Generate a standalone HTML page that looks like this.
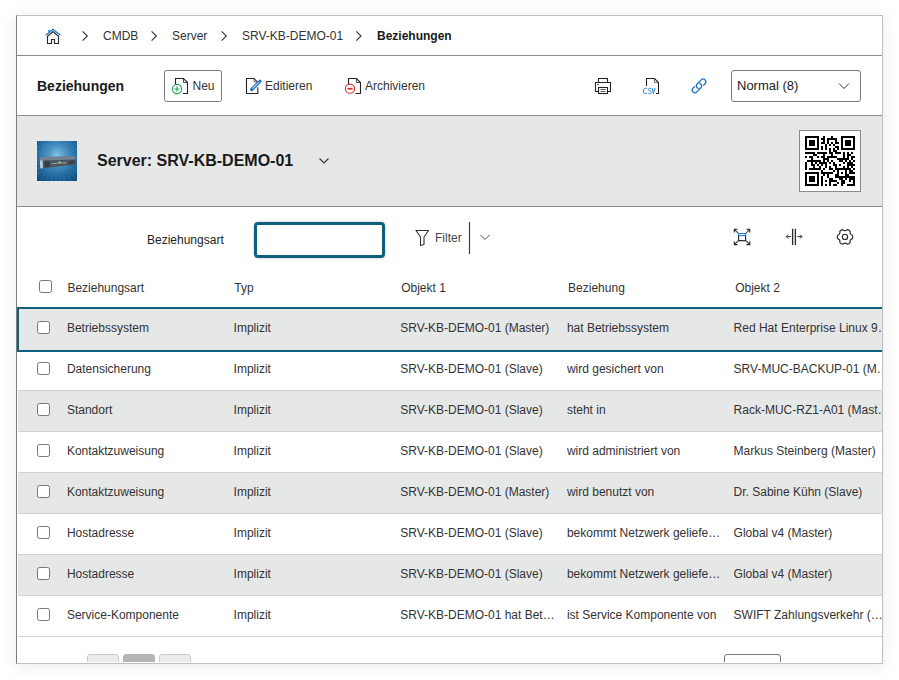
<!DOCTYPE html>
<html><head><meta charset="utf-8">
<style>
*{box-sizing:border-box;margin:0;padding:0}
html,body{width:899px;height:680px;overflow:hidden;background:#fff}
body{font-family:"Liberation Sans",sans-serif;font-size:12px;color:#333;position:relative}
.panel{position:absolute;left:16px;top:15px;width:867px;height:649px;border:1px solid #c0c0c0;border-left-color:#7d7d7d;background:#fff;box-shadow:0 2px 16px rgba(0,0,0,0.09)}
.clip{position:absolute;left:17px;top:16px;width:865px;height:646px;overflow:hidden}
.org{position:absolute;left:-17px;top:-16px;width:899px;height:680px}
.a{position:absolute}
.t{position:absolute;white-space:nowrap;line-height:14px}
.hl{position:absolute;left:17px;width:865px;height:1px}
svg{position:absolute;overflow:visible}
.cb{position:absolute;width:13px;height:13px;border:1px solid #777;border-radius:2.5px;background:#fff}
.row{position:absolute;left:18px;width:900px;height:41px;border-bottom:1px solid #d2d2d2}
.row.g{background:#e6e7e7}
.c{overflow:hidden;text-overflow:ellipsis}
</style></head><body>
<div class="panel"></div>
<div class="clip"><div class="org">

  <!-- ===== Breadcrumb ===== -->
  <svg style="left:0;top:0" width="1" height="1">
    <!-- home -->
    <path d="M47.5 43.5 V36.2 L53 31.5 L58.5 36.2 V43.5 H54.5 V39.5 H51.5 V43.5 Z" fill="none" stroke="#2a2a2a" stroke-width="1.2" stroke-linejoin="miter"/>
    <path d="M45.6 35.3 L53 29.3 L60.4 35.3" fill="none" stroke="#1a73c8" stroke-width="1.1"/>
    <path d="M48.2 32.2 V29.9 L50.6 30.4 Z" fill="#1a73c8"/>
    <!-- chevrons -->
    <path d="M82.6 31.4 L87.3 36 L82.6 40.6" fill="none" stroke="#3a3a3a" stroke-width="1.15"/>
    <path d="M151.6 31.4 L156.3 36 L151.6 40.6" fill="none" stroke="#3a3a3a" stroke-width="1.15"/>
    <path d="M221.6 31.4 L226.3 36 L221.6 40.6" fill="none" stroke="#3a3a3a" stroke-width="1.15"/>
    <path d="M356.3 31.4 L361 36 L356.3 40.6" fill="none" stroke="#3a3a3a" stroke-width="1.15"/>
  </svg>
  <div class="t" style="left:103px;top:29px">CMDB</div>
  <div class="t" style="left:172px;top:29px">Server</div>
  <div class="t" style="left:242px;top:29px">SRV-KB-DEMO-01</div>
  <div class="t" style="left:377px;top:29px;font-weight:bold;color:#1a1a1a">Beziehungen</div>
  <div class="hl" style="top:55px;background:#8c8c8c"></div>

  <!-- ===== Toolbar ===== -->
  <div class="t" style="left:37px;top:78px;font-size:14px;line-height:16px;font-weight:bold;color:#1a1a1a">Beziehungen</div>
  <div class="a" style="left:164px;top:70px;width:58px;height:32px;border:1px solid #7a7a7a;border-radius:2.5px"></div>
  <div class="t" style="left:192.5px;top:79px">Neu</div>
  <div class="t" style="left:265px;top:79px">Editieren</div>
  <div class="t" style="left:365px;top:79px">Archivieren</div>
  <svg style="left:0;top:0" width="1" height="1">
    <!-- Neu doc -->
    <path d="M175.5 85 V78.5 H183.5 L187.5 82.5 V93.5 H183" fill="none" stroke="#222" stroke-width="1.1"/>
    <path d="M183.5 78.5 V82.5 H187.5" fill="none" stroke="#222" stroke-width="0.8"/>
    <circle cx="177" cy="89" r="4.6" fill="#fff" stroke="#1fa550" stroke-width="1.1"/>
    <path d="M177 86.4 V91.6 M174.4 89 H179.6" stroke="#1fa550" stroke-width="1.15"/>
    <!-- Edit doc -->
    <path d="M252 93.5 H246.5 V78.5 H254 L257.8 82.3 M257.8 87.2 V93.5 H251" fill="none" stroke="#222" stroke-width="1.1"/>
    <path d="M254 78.8 V82 H257.3" fill="none" stroke="#555" stroke-width="0.8"/>
    <path d="M251.6 89.6 L259.9 81.3" stroke="#1a73c8" stroke-width="3.2" stroke-linecap="round"/>
    <path d="M252.6 88.6 L259.4 81.8" stroke="#fff" stroke-width="1"/>
    <!-- Archiv doc -->
    <path d="M348.5 84 V78.5 H356.5 L360.5 82.5 V93.5 H355.5" fill="none" stroke="#222" stroke-width="1.1"/>
    <path d="M356.5 78.5 V82.5 H360.5" fill="none" stroke="#222" stroke-width="0.8"/>
    <circle cx="350" cy="88.7" r="4.6" fill="#fff" stroke="#d9302c" stroke-width="1.1"/>
    <path d="M347.4 88.7 H352.6" stroke="#d9302c" stroke-width="1.8"/>
    <!-- printer -->
    <path d="M598.5 82.5 V78.5 H607.5 V82.5" fill="none" stroke="#222" stroke-width="1.1"/>
    <path d="M598.5 91.5 H595.5 V82.5 H610.5 V91.5 H607.5" fill="none" stroke="#222" stroke-width="1.1"/>
    <rect x="598.5" y="87.5" width="9" height="6" fill="#fff" stroke="#222" stroke-width="1.1"/>
    <path d="M600.5 89.5 H605.5 M600.5 91.5 H605.5" stroke="#333" stroke-width="0.8"/>
    <path d="M597 84.5 H599" stroke="#1a73c8" stroke-width="1.2"/>
    <!-- csv -->
    <path d="M646.5 86 V78.5 H654.5 L658.5 82.5 V93.5 H656" fill="none" stroke="#222" stroke-width="1.1"/>
    <path d="M654.5 78.8 V82.5 H658.2" fill="none" stroke="#555" stroke-width="0.8"/>
    <!-- link -->
    <g transform="translate(699 85.9) rotate(-45)" fill="none" stroke="#1a6fc0" stroke-width="1.3">
      <path d="M-3.2 -2.7 H-5.8 A2.7 2.7 0 0 0 -5.8 2.7 H0 A2.7 2.7 0 0 0 2.15 -1.6"/>
      <path d="M3.2 2.7 H5.8 A2.7 2.7 0 0 0 5.8 -2.7 H0 A2.7 2.7 0 0 0 -2.15 1.6"/>
    </g>
  </svg>
  <svg style="left:0;top:0" width="1" height="1"><path d="M647.3 89 C646.8 88.4 646.2 88.2 645.5 88.2 C644.2 88.2 643.5 89.4 643.5 91 C643.5 92.6 644.2 93.8 645.5 93.8 C646.2 93.8 646.8 93.6 647.3 93 M651.3 88.9 C650.9 88.4 650.4 88.2 649.8 88.2 C649 88.2 648.4 88.7 648.4 89.5 C648.4 90.3 649.1 90.6 649.9 90.9 C650.8 91.2 651.5 91.6 651.5 92.5 C651.5 93.3 650.8 93.8 649.9 93.8 C649.2 93.8 648.6 93.5 648.2 93 M652.1 88.1 L653.5 93.7 L654.9 88.1" fill="none" stroke="#2a86cc" stroke-width="1"/></svg>
  <div class="a" style="left:731px;top:70px;width:130px;height:32px;border:1px solid #7a7a7a;border-radius:3px;background:#fff"></div>
  <div class="t" style="left:737px;top:79px;font-size:13px;color:#222">Normal (8)</div>
  <svg style="left:0;top:0" width="1" height="1">
    <path d="M839 83.5 L844 88.5 L849 83.5" fill="none" stroke="#333" stroke-width="1"/>
  </svg>
  <div class="hl" style="top:115px;background:#8c8c8c"></div>

  <!-- ===== Server header ===== -->
  <div class="a" style="left:17px;top:116px;width:865px;height:90px;background:#e6e7e7"></div>
  <div class="a" style="left:37px;top:141px;width:40px;height:40px;background:repeating-conic-gradient(from 0deg at 50% 45%, rgba(255,255,255,0.045) 0deg 6deg, rgba(0,0,0,0) 6deg 12deg),radial-gradient(circle at 50% 36%, #86c2e4 0%, #4592c2 28%, #1f6aa0 62%, #0b4677 100%)"></div>
  <svg style="left:37px;top:141px" width="40" height="40">
    <path d="M2.8 16.6 Q3 15.9 4 15.8 L37.2 15.2 Q38.4 15.3 38.5 16.2 L38.6 18.6 L3 19.4 Z" fill="#75818f"/>
    <path d="M3 19.4 L38.6 18.6 L38.6 23.4 L4.4 27.6 L3.2 27 Z" fill="#4b5663"/>
    <path d="M3 19.4 L5.6 19.3 L6 27.3 L4.4 27.6 L3.2 27 Z" fill="#c3ccd3"/>
    <path d="M7.5 20.2 L12.5 20 L12.6 26 L7.6 26.6 Z" fill="#323a44"/>
    <path d="M15 22.6 L21 22.3 M23.5 22.1 L29 21.8" stroke="#8fc48a" stroke-width="0.9"/>
    <path d="M20 22.3 L22 22.2 M28.5 21.8 L30 21.7" stroke="#d06a4a" stroke-width="0.9"/>
    <path d="M21.2 21.3 L22.6 20.3 L24 21.2 L22.6 22.6 Z" fill="#cfd8df"/>
    <path d="M31.5 19.7 L37.8 19.5 L37.8 22.8 L31.5 23.4 Z" fill="#3a444f"/>
  </svg>
  <div class="t" style="left:97px;top:152px;font-size:16px;line-height:18px;font-weight:bold;color:#1a1a1a">Server: SRV-KB-DEMO-01</div>
  <svg style="left:0;top:0" width="1" height="1">
    <path d="M319.5 158.5 L324 163 L328.5 158.5" fill="none" stroke="#333" stroke-width="1.1"/>
  </svg>
  <div class="a" style="left:799px;top:130px;width:62px;height:62px;border:1px solid #8a8a8a;background:#fff"></div>
  <svg id="qr" style="left:805px;top:136px" width="50" height="50"><g fill="#000" shape-rendering="crispEdges"><rect x="0" y="0" width="14" height="2"/><rect x="18" y="0" width="2" height="2"/><rect x="26" y="0" width="2" height="2"/><rect x="36" y="0" width="14" height="2"/><rect x="0" y="2" width="2" height="2"/><rect x="12" y="2" width="2" height="2"/><rect x="16" y="2" width="4" height="2"/><rect x="22" y="2" width="10" height="2"/><rect x="36" y="2" width="2" height="2"/><rect x="48" y="2" width="2" height="2"/><rect x="0" y="4" width="2" height="2"/><rect x="4" y="4" width="6" height="2"/><rect x="12" y="4" width="2" height="2"/><rect x="18" y="4" width="2" height="2"/><rect x="22" y="4" width="2" height="2"/><rect x="30" y="4" width="2" height="2"/><rect x="36" y="4" width="2" height="2"/><rect x="40" y="4" width="6" height="2"/><rect x="48" y="4" width="2" height="2"/><rect x="0" y="6" width="2" height="2"/><rect x="4" y="6" width="6" height="2"/><rect x="12" y="6" width="2" height="2"/><rect x="16" y="6" width="4" height="2"/><rect x="22" y="6" width="2" height="2"/><rect x="26" y="6" width="2" height="2"/><rect x="30" y="6" width="4" height="2"/><rect x="36" y="6" width="2" height="2"/><rect x="40" y="6" width="6" height="2"/><rect x="48" y="6" width="2" height="2"/><rect x="0" y="8" width="2" height="2"/><rect x="4" y="8" width="6" height="2"/><rect x="12" y="8" width="2" height="2"/><rect x="20" y="8" width="2" height="2"/><rect x="24" y="8" width="2" height="2"/><rect x="28" y="8" width="2" height="2"/><rect x="36" y="8" width="2" height="2"/><rect x="40" y="8" width="6" height="2"/><rect x="48" y="8" width="2" height="2"/><rect x="0" y="10" width="2" height="2"/><rect x="12" y="10" width="2" height="2"/><rect x="16" y="10" width="2" height="2"/><rect x="20" y="10" width="2" height="2"/><rect x="30" y="10" width="4" height="2"/><rect x="36" y="10" width="2" height="2"/><rect x="48" y="10" width="2" height="2"/><rect x="0" y="12" width="14" height="2"/><rect x="16" y="12" width="2" height="2"/><rect x="20" y="12" width="2" height="2"/><rect x="24" y="12" width="2" height="2"/><rect x="28" y="12" width="2" height="2"/><rect x="32" y="12" width="2" height="2"/><rect x="36" y="12" width="14" height="2"/><rect x="24" y="14" width="2" height="2"/><rect x="28" y="14" width="4" height="2"/><rect x="0" y="16" width="10" height="2"/><rect x="12" y="16" width="10" height="2"/><rect x="24" y="16" width="4" height="2"/><rect x="30" y="16" width="6" height="2"/><rect x="38" y="16" width="2" height="2"/><rect x="42" y="16" width="2" height="2"/><rect x="46" y="16" width="2" height="2"/><rect x="8" y="18" width="4" height="2"/><rect x="18" y="18" width="2" height="2"/><rect x="26" y="18" width="2" height="2"/><rect x="38" y="18" width="2" height="2"/><rect x="42" y="18" width="4" height="2"/><rect x="0" y="20" width="2" height="2"/><rect x="4" y="20" width="4" height="2"/><rect x="12" y="20" width="2" height="2"/><rect x="16" y="20" width="4" height="2"/><rect x="22" y="20" width="10" height="2"/><rect x="38" y="20" width="2" height="2"/><rect x="42" y="20" width="2" height="2"/><rect x="46" y="20" width="4" height="2"/><rect x="6" y="22" width="2" height="2"/><rect x="18" y="22" width="6" height="2"/><rect x="32" y="22" width="12" height="2"/><rect x="46" y="22" width="2" height="2"/><rect x="2" y="24" width="14" height="2"/><rect x="18" y="24" width="2" height="2"/><rect x="22" y="24" width="2" height="2"/><rect x="26" y="24" width="2" height="2"/><rect x="34" y="24" width="4" height="2"/><rect x="40" y="24" width="2" height="2"/><rect x="44" y="24" width="2" height="2"/><rect x="48" y="24" width="2" height="2"/><rect x="0" y="26" width="2" height="2"/><rect x="6" y="26" width="2" height="2"/><rect x="10" y="26" width="2" height="2"/><rect x="14" y="26" width="8" height="2"/><rect x="24" y="26" width="2" height="2"/><rect x="28" y="26" width="2" height="2"/><rect x="38" y="26" width="2" height="2"/><rect x="42" y="26" width="6" height="2"/><rect x="0" y="28" width="2" height="2"/><rect x="6" y="28" width="4" height="2"/><rect x="12" y="28" width="2" height="2"/><rect x="16" y="28" width="2" height="2"/><rect x="20" y="28" width="2" height="2"/><rect x="28" y="28" width="4" height="2"/><rect x="34" y="28" width="2" height="2"/><rect x="42" y="28" width="8" height="2"/><rect x="0" y="30" width="2" height="2"/><rect x="8" y="30" width="2" height="2"/><rect x="14" y="30" width="2" height="2"/><rect x="20" y="30" width="2" height="2"/><rect x="24" y="30" width="2" height="2"/><rect x="30" y="30" width="2" height="2"/><rect x="38" y="30" width="2" height="2"/><rect x="42" y="30" width="2" height="2"/><rect x="46" y="30" width="2" height="2"/><rect x="0" y="32" width="2" height="2"/><rect x="4" y="32" width="12" height="2"/><rect x="18" y="32" width="2" height="2"/><rect x="24" y="32" width="4" height="2"/><rect x="30" y="32" width="16" height="2"/><rect x="48" y="32" width="2" height="2"/><rect x="16" y="34" width="2" height="2"/><rect x="28" y="34" width="2" height="2"/><rect x="32" y="34" width="2" height="2"/><rect x="40" y="34" width="2" height="2"/><rect x="44" y="34" width="4" height="2"/><rect x="0" y="36" width="14" height="2"/><rect x="16" y="36" width="12" height="2"/><rect x="32" y="36" width="2" height="2"/><rect x="36" y="36" width="2" height="2"/><rect x="40" y="36" width="2" height="2"/><rect x="44" y="36" width="6" height="2"/><rect x="0" y="38" width="2" height="2"/><rect x="12" y="38" width="2" height="2"/><rect x="18" y="38" width="2" height="2"/><rect x="22" y="38" width="2" height="2"/><rect x="30" y="38" width="4" height="2"/><rect x="40" y="38" width="4" height="2"/><rect x="0" y="40" width="2" height="2"/><rect x="4" y="40" width="6" height="2"/><rect x="12" y="40" width="2" height="2"/><rect x="16" y="40" width="2" height="2"/><rect x="22" y="40" width="2" height="2"/><rect x="30" y="40" width="20" height="2"/><rect x="0" y="42" width="2" height="2"/><rect x="4" y="42" width="6" height="2"/><rect x="12" y="42" width="2" height="2"/><rect x="16" y="42" width="2" height="2"/><rect x="24" y="42" width="4" height="2"/><rect x="34" y="42" width="4" height="2"/><rect x="40" y="42" width="2" height="2"/><rect x="44" y="42" width="6" height="2"/><rect x="0" y="44" width="2" height="2"/><rect x="4" y="44" width="6" height="2"/><rect x="12" y="44" width="2" height="2"/><rect x="16" y="44" width="2" height="2"/><rect x="20" y="44" width="2" height="2"/><rect x="24" y="44" width="8" height="2"/><rect x="36" y="44" width="4" height="2"/><rect x="44" y="44" width="2" height="2"/><rect x="48" y="44" width="2" height="2"/><rect x="0" y="46" width="2" height="2"/><rect x="12" y="46" width="2" height="2"/><rect x="16" y="46" width="2" height="2"/><rect x="24" y="46" width="2" height="2"/><rect x="32" y="46" width="2" height="2"/><rect x="36" y="46" width="4" height="2"/><rect x="48" y="46" width="2" height="2"/><rect x="0" y="48" width="14" height="2"/><rect x="16" y="48" width="2" height="2"/><rect x="20" y="48" width="2" height="2"/><rect x="24" y="48" width="2" height="2"/><rect x="28" y="48" width="4" height="2"/><rect x="36" y="48" width="2" height="2"/><rect x="42" y="48" width="8" height="2"/></g></svg>
  <div class="hl" style="top:206px;background:#8c8c8c"></div>

  <!-- ===== Filter row ===== -->
  <div class="t" style="left:147px;top:233px;color:#222">Beziehungsart</div>
  <div class="a" style="left:254px;top:222px;width:131px;height:36px;border:3px solid #0f5e7a;border-radius:4px;box-shadow:0 0 3px rgba(15,94,122,0.35)"></div>
  <svg style="left:0;top:0" width="1" height="1">
    <path d="M416 230.5 H428.5 L424 237 V244.5 L420.5 245.5 V237 Z" fill="none" stroke="#333" stroke-width="1.1" stroke-linejoin="round"/>
    <path d="M469.5 222 V254" stroke="#3a3a3a" stroke-width="1.15"/>
    <path d="M480.5 235 L485 239.5 L489.5 235" fill="none" stroke="#444" stroke-width="1"/>
    <!-- expand -->
    <path d="M738.6 235.6 V240.6 H745.6 V235.6" fill="none" stroke="#2a2a2a" stroke-width="1.15"/>
    <rect x="738.6" y="233.5" width="7" height="2.1" fill="#fff" stroke="#1a73c8" stroke-width="1.1"/>
    <path d="M734.3 232.6 V229.3 H737.6 M734.6 229.6 L738 233 M749.8 232.6 V229.3 H746.5 M749.5 229.6 L746.2 233 M734.3 241.2 V244.6 H737.6 M734.6 244.3 L738 240.9 M749.8 241.2 V244.6 H746.5 M749.5 244.3 L746.2 240.9" fill="none" stroke="#2a2a2a" stroke-width="1.05"/>
    <!-- split -->
    <rect x="792.5" y="228.8" width="3" height="16.2" fill="#cfcfcf"/>
    <path d="M792.5 228.8 V245 M795.5 228.8 V245" stroke="#2a2a2a" stroke-width="1.1"/>
    <path d="M786.4 236.6 H791 M788.3 234.6 L786.3 236.6 L788.3 238.6 M802 236.6 H797.2 M800 234.6 L802 236.6 L800 238.6" fill="none" stroke="#333" stroke-width="1"/>
    <!-- gear -->
    <path d="M852.41 235.19 Q853.21 236.90 852.41 238.61 Q849.50 239.50 850.18 242.46 Q849.10 244.01 847.22 244.17 Q845.00 242.10 842.78 244.17 Q840.90 244.01 839.82 242.46 Q840.50 239.50 837.59 238.61 Q836.79 236.90 837.59 235.19 Q840.50 234.30 839.82 231.34 Q840.90 229.79 842.78 229.63 Q845.00 231.70 847.22 229.63 Q849.10 229.79 850.18 231.34 Q849.50 234.30 852.41 235.19 Z" fill="none" stroke="#2a2a2a" stroke-width="1.15" stroke-linejoin="round"/>
    <circle cx="845" cy="236.9" r="2.6" fill="none" stroke="#2a2a2a" stroke-width="1.15"/>
  </svg>
  <div class="t" style="left:435px;top:231px;color:#444">Filter</div>

  <!-- ===== Table header ===== -->
  <div class="cb" style="left:39px;top:280px"></div>
  <div class="t" style="left:67.4px;top:281px">Beziehungsart</div>
  <div class="t" style="left:234.3px;top:281px">Typ</div>
  <div class="t" style="left:401.2px;top:281px">Objekt 1</div>
  <div class="t" style="left:568.1px;top:281px">Beziehung</div>
  <div class="t" style="left:735.2px;top:281px">Objekt 2</div>

  <!-- pagination -->
  <div class="a" style="left:87px;top:654px;width:32px;height:20px;border:1px solid #c9c9c9;border-radius:3px;background:#ececec"></div>
  <div class="a" style="left:123px;top:654px;width:32px;height:20px;border:1px solid #b3b3b3;border-radius:3px;background:#b5b5b5"></div>
  <div class="a" style="left:159px;top:654px;width:32px;height:20px;border:1px solid #c9c9c9;border-radius:3px;background:#ececec"></div>
  <div class="a" style="left:724px;top:654px;width:57px;height:20px;border:1px solid #7a7a7a;border-radius:3px;background:#fff"></div>
  <div id="rows">
<div class="a" style="left:17px;top:307px;width:880px;height:45px;border:2px solid #0f5e7a;border-right:none;background:#e6e7e7;"></div>
<div class="cb" style="left:37px;top:321px"></div>
<div class="t c" style="left:66.9px;top:321px;width:157px">Betriebssystem</div>
<div class="t c" style="left:233.6px;top:321px;width:157px">Implizit</div>
<div class="t c" style="left:400.2px;top:321px;width:157px">SRV-KB-DEMO-01 (Master)</div>
<div class="t c" style="left:566.9px;top:321px;width:157px">hat Betriebssystem</div>
<div class="t c" style="left:733.6px;top:321px;width:157px">Red Hat Enterprise Linux 9.x (Master)</div>
<div class="a" style="left:18px;top:350px;width:880px;height:41px;border-bottom:1px solid #d2d2d2;"></div>
<div class="cb" style="left:37px;top:362px"></div>
<div class="t c" style="left:66.9px;top:362px;width:157px">Datensicherung</div>
<div class="t c" style="left:233.6px;top:362px;width:157px">Implizit</div>
<div class="t c" style="left:400.2px;top:362px;width:157px">SRV-KB-DEMO-01 (Slave)</div>
<div class="t c" style="left:566.9px;top:362px;width:157px">wird gesichert von</div>
<div class="t c" style="left:733.6px;top:362px;width:157px">SRV-MUC-BACKUP-01 (Master)</div>
<div class="a" style="left:18px;top:391px;width:880px;height:41px;border-bottom:1px solid #d2d2d2;background:#e6e7e7;"></div>
<div class="cb" style="left:37px;top:403px"></div>
<div class="t c" style="left:66.9px;top:403px;width:157px">Standort</div>
<div class="t c" style="left:233.6px;top:403px;width:157px">Implizit</div>
<div class="t c" style="left:400.2px;top:403px;width:157px">SRV-KB-DEMO-01 (Slave)</div>
<div class="t c" style="left:566.9px;top:403px;width:157px">steht in</div>
<div class="t c" style="left:733.6px;top:403px;width:157px">Rack-MUC-RZ1-A01 (Master)</div>
<div class="a" style="left:18px;top:432px;width:880px;height:41px;border-bottom:1px solid #d2d2d2;"></div>
<div class="cb" style="left:37px;top:444px"></div>
<div class="t c" style="left:66.9px;top:444px;width:157px">Kontaktzuweisung</div>
<div class="t c" style="left:233.6px;top:444px;width:157px">Implizit</div>
<div class="t c" style="left:400.2px;top:444px;width:157px">SRV-KB-DEMO-01 (Slave)</div>
<div class="t c" style="left:566.9px;top:444px;width:157px">wird administriert von</div>
<div class="t c" style="left:733.6px;top:444px;width:157px">Markus Steinberg (Master)</div>
<div class="a" style="left:18px;top:473px;width:880px;height:41px;border-bottom:1px solid #d2d2d2;background:#e6e7e7;"></div>
<div class="cb" style="left:37px;top:485px"></div>
<div class="t c" style="left:66.9px;top:485px;width:157px">Kontaktzuweisung</div>
<div class="t c" style="left:233.6px;top:485px;width:157px">Implizit</div>
<div class="t c" style="left:400.2px;top:485px;width:157px">SRV-KB-DEMO-01 (Master)</div>
<div class="t c" style="left:566.9px;top:485px;width:157px">wird benutzt von</div>
<div class="t c" style="left:733.6px;top:485px;width:157px">Dr. Sabine Kühn (Slave)</div>
<div class="a" style="left:18px;top:514px;width:880px;height:41px;border-bottom:1px solid #d2d2d2;"></div>
<div class="cb" style="left:37px;top:526px"></div>
<div class="t c" style="left:66.9px;top:526px;width:157px">Hostadresse</div>
<div class="t c" style="left:233.6px;top:526px;width:157px">Implizit</div>
<div class="t c" style="left:400.2px;top:526px;width:157px">SRV-KB-DEMO-01 (Slave)</div>
<div class="t c" style="left:566.9px;top:526px;width:157px">bekommt Netzwerk geliefert von</div>
<div class="t c" style="left:733.6px;top:526px;width:157px">Global v4 (Master)</div>
<div class="a" style="left:18px;top:555px;width:880px;height:41px;border-bottom:1px solid #d2d2d2;background:#e6e7e7;"></div>
<div class="cb" style="left:37px;top:567px"></div>
<div class="t c" style="left:66.9px;top:567px;width:157px">Hostadresse</div>
<div class="t c" style="left:233.6px;top:567px;width:157px">Implizit</div>
<div class="t c" style="left:400.2px;top:567px;width:157px">SRV-KB-DEMO-01 (Slave)</div>
<div class="t c" style="left:566.9px;top:567px;width:157px">bekommt Netzwerk geliefert von</div>
<div class="t c" style="left:733.6px;top:567px;width:157px">Global v4 (Master)</div>
<div class="a" style="left:18px;top:596px;width:880px;height:41px;border-bottom:1px solid #d2d2d2;"></div>
<div class="cb" style="left:37px;top:608px"></div>
<div class="t c" style="left:66.9px;top:608px;width:157px">Service-Komponente</div>
<div class="t c" style="left:233.6px;top:608px;width:157px">Implizit</div>
<div class="t c" style="left:400.2px;top:608px;width:157px">SRV-KB-DEMO-01 hat Betriebssystem</div>
<div class="t c" style="left:566.9px;top:608px;width:157px">ist Service Komponente von</div>
<div class="t c" style="left:733.6px;top:608px;width:157px">SWIFT Zahlungsverkehr (Master)</div>

</div>
</div></div>
</body></html>
